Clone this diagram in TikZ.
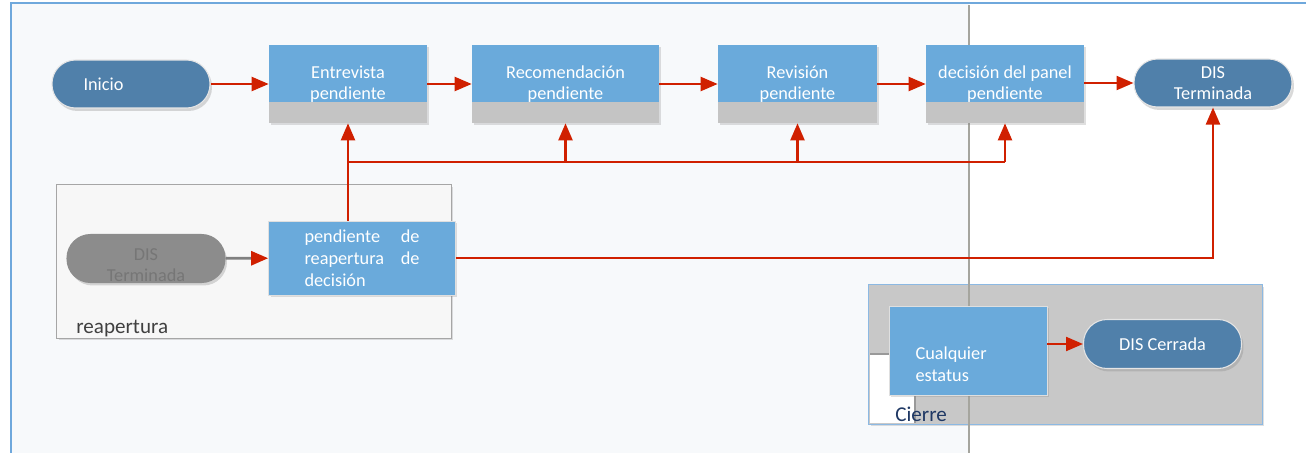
\documentclass[tikz,border=0pt]{standalone}
\usepackage{fontspec}
\setmainfont{Carlito}
\usetikzlibrary{arrows.meta,shadows}
\definecolor{boxblue}{RGB}{106,170,219}
\definecolor{termblue}{RGB}{80,128,170}
\definecolor{shadowgray}{RGB}{196,196,196}
\definecolor{flowred}{RGB}{208,32,0}
\definecolor{cierregray}{RGB}{200,200,200}
\definecolor{termgray}{RGB}{140,140,140}
\definecolor{termgraytext}{RGB}{118,118,118}
\definecolor{frameblue}{RGB}{111,168,220}
\definecolor{lanegray}{RGB}{165,165,158}
\definecolor{labelnavy}{RGB}{31,56,100}
\definecolor{bgtint}{RGB}{247,249,251}
\tikzset{
  process/.style = {
    rectangle, fill=shadowgray, text=white, align=center, inner sep=0pt,
    minimum height=1.56cm,
    font=\fontsize{10.4}{12}\selectfont,
    drop shadow={shadow xshift=.04cm, shadow yshift=-.04cm, opacity=.25},
    path picture = {
      \fill[boxblue] (path picture bounding box.north west)
        rectangle ([yshift=0.42cm]path picture bounding box.south east);
    }
  },
  flatbox/.style = {
    rectangle, fill=boxblue, draw=white!75!gray, line width=0.4pt,
    text=white, inner sep=0pt,
    font=\fontsize{10.4}{12.5}\selectfont,
    drop shadow={shadow xshift=.04cm, shadow yshift=-.04cm, opacity=.25}
  },
  terminal/.style = {
    rectangle, rounded corners=0.47cm, fill=termblue, draw=white!80!gray,
    line width=0.6pt, text=white, align=center, inner sep=0pt,
    minimum width=3.16cm, minimum height=0.96cm,
    font=\fontsize{10.4}{12}\selectfont,
    drop shadow={shadow xshift=.04cm, shadow yshift=-.06cm, opacity=.3}
  },
  group/.style = {
    rectangle, inner sep=0pt,
    drop shadow={shadow xshift=.05cm, shadow yshift=-.05cm, opacity=.25}
  },
  grouplabel/.style = {inner sep=0pt, font=\fontsize{12}{14}\selectfont},
  flow/.style = {draw=flowred, line width=1.3pt,
    -{Triangle[length=0.34cm,width=0.28cm,color=flowred]}},
  flowline/.style = {draw=flowred, line width=1.3pt}
}
\begin{document}
\begin{tikzpicture}[x=0.02cm, y=-0.02cm]
  \useasboundingbox (0,0) rectangle (1306,453);
  % background and frame
  \fill[bgtint] (11,3) rectangle (969,453);
  \draw[frameblue, line width=1.5pt] (11,453) -- (11,3) -- (1306,3);

  % group boxes
  \node[group, fill=black!3, draw=black!35, minimum width=7.9cm,
        minimum height=3.08cm] (reapgroup) at (253.5,261) {};
  \node[group, fill=cierregray, draw=frameblue!80, minimum width=7.88cm,
        minimum height=2.8cm] (cierregroup) at (1065,354) {};
  % white patch in the corner of cierre
  \fill[white] (870,354) rectangle (915,423);
  \draw[black!40, line width=0.8pt] (870,354) -- (889,354);
  \draw[black!40, line width=0.8pt] (915,354) -- (915,423);

  % lane separator
  \draw[lanegray, line width=1.3pt] (969,5) -- (969,453);

  % top row
  \node[terminal, text width=1.9cm, align=left] (inicio) at (131,84) {Inicio};
  \node[process, minimum width=3.16cm] (entr) at (348,84) {Entrevista\\pendiente};
  \node[process, minimum width=3.74cm] (recom) at (565.5,84) {Recomendación\\pendiente};
  \node[process, minimum width=3.18cm] (revis) at (797.5,84) {Revisión\\pendiente};
  \node[process, minimum width=3.16cm] (panel) at (1005,84) {decisión del panel\\pendiente};
  \node[terminal] (disterm) at (1213,83) {DIS\\Terminada};

  % reapertura
  \node[terminal, fill=termgray, draw=termgray, text=termgraytext, text width=2.5cm,
        text height=0.5cm] (disgray) at (146,258.5) {DIS\\Terminada};
  \node[flatbox, minimum width=3.74cm, minimum height=1.48cm, text width=2.3cm,
        align=justify] (reap) at (362,258)
    {pendiente\hfill de\\reapertura\hfill de\\decisión};
  \node[grouplabel, text=black!75, anchor=base west] (reaplabel) at (76,333) {reapertura};

  % cierre
  \node[flatbox, minimum width=3.16cm, minimum height=1.78cm, text width=2.1cm,
        text height=0.82cm, align=left] (cualq) at (968,350.5) {Cualquier\\estatus};
  \node[terminal, minimum height=0.98cm] (discerr) at (1162.5,344) {DIS Cerrada};
  \node[grouplabel, text=labelnavy, anchor=base west] (cierrelabel) at (895,421) {Cierre};

  % connectors along the top
  \draw[flow] (inicio) -- (entr);
  \draw[flow] (entr) -- (recom);
  \draw[flow] (recom) -- (revis);
  \draw[flow] (revis) -- (panel);
  \draw[flow] (panel.east |- disterm.west) -- (disterm.west);

  % feedback from reapertura
  \coordinate (bus) at (0,162);
  \draw[flow] (entr.south |- reap.north) -- (entr.south);
  \draw[flowline] (entr.south |- bus) -- (bus -| panel.south);
  \draw[flow] (recom.south |- bus) -- (recom.south);
  \draw[flow] (revis.south |- bus) -- (revis.south);
  \draw[flow] (panel.south |- bus) -- (panel.south);
  \draw[flow] (reap.east) -| (disterm.south);
  \draw[draw=gray, line width=1.5pt,
        -{Triangle[length=0.34cm,width=0.28cm,color=flowred]}] (disgray) -- (reap);

  % cierre connector
  \draw[flow] (cualq.east |- discerr.west) -- (discerr.west);
\end{tikzpicture}
\end{document}
